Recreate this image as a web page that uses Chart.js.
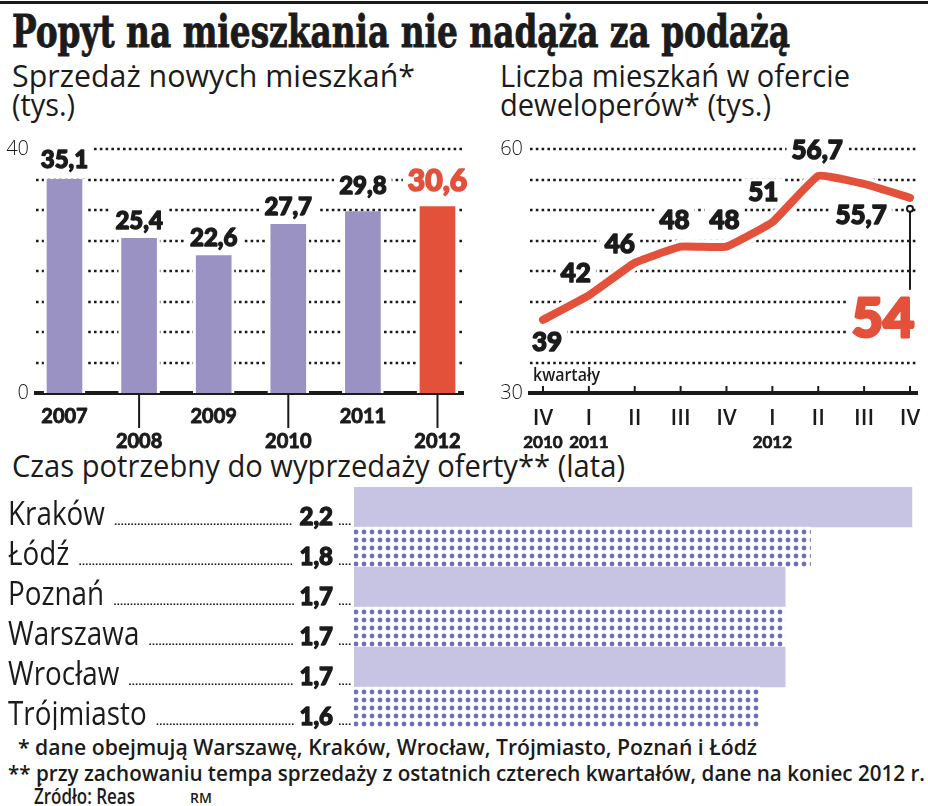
<!DOCTYPE html>
<html lang="pl">
<head>
<meta charset="utf-8">
<title>Popyt na mieszkania nie nadąża za podażą</title>
<script src="https://cdn.jsdelivr.net/npm/chart.js@4.4.1/dist/chart.umd.min.js"></script>
<style>
  html, body { margin: 0; background: #fff; }
  body { position: relative; width: 928px; height: 806px; overflow: hidden; color: #1b1b1b; font-family: "Open Sans", sans-serif; }
  canvas { position: absolute; }
  #sales { left: 0; top: 130px; }
  #offer { left: 480px; top: 130px; }
  #wait { left: 0; top: 480px; }
  .rule { position: absolute; left: 0; top: 1px; width: 928px; height: 3px; background: #1b1b1b; }
  .txt { position: absolute; white-space: nowrap; line-height: 1; transform-origin: 0 0; }
  .title { font-family: "DejaVu Serif Condensed", "DejaVu Serif", serif; font-stretch: condensed; font-weight: bold; font-size: 44px; -webkit-text-stroke: 0.8px #1b1b1b; }
  .sub { font-size: 31px; }
  .note { font-size: 21px; font-weight: 600; }
</style>
</head>
<body>
<div class="rule"></div>
<div class="txt title" style="left:12px;top:10px" data-w="778">Popyt na mieszkania nie nadąża za podażą</div>
<div class="txt sub" style="left:12px;top:60px" data-w="403">Sprzedaż nowych mieszkań*</div>
<div class="txt sub" style="left:12px;top:89px" data-w="63">(tys.)</div>
<div class="txt sub" style="left:500px;top:60px" data-w="350">Liczba mieszkań w ofercie</div>
<div class="txt sub" style="left:500px;top:89px" data-w="271">deweloperów* (tys.)</div>
<div class="txt sub" style="left:12px;top:450px" data-w="613">Czas potrzebny do wyprzedaży oferty** (lata)</div>

<canvas id="sales" width="480" height="330"></canvas>
<canvas id="offer" width="448" height="330"></canvas>
<canvas id="wait" width="928" height="250"></canvas>

<div class="txt" style="left:533px;top:365px;font-size:18px;font-weight:600" data-w="67">kwartały</div>
<div class="txt note" style="left:18px;top:737px" data-w="739">* dane obejmują Warszawę, Kraków, Wrocław, Trójmiasto, Poznań i Łódź</div>
<div class="txt note" style="left:8px;top:763px" data-w="917">** przy zachowaniu tempa sprzedaży z ostatnich czterech kwartałów, dane na koniec 2012 r.</div>
<div class="txt note" style="left:34px;top:786px" data-w="101">Źródło: Reas</div>
<div class="txt" style="left:190px;top:791px;font-size:14px;font-weight:600">RM</div>

<script>
// sprzedaz nowych mieszkan (tys.)
const salesYears = ['2007', '2008', '2009', '2010', '2011', '2012'];
const salesValues = [35.1, 25.4, 22.6, 27.7, 29.8, 30.6];

// liczba mieszkan w ofercie (tys.), kwartaly
const quarters = ['IV', 'I', 'II', 'III', 'IV', 'I', 'II', 'III', 'IV'];
const quarterYears = ['2010', '2011', '', '', '', '2012', '', '', ''];
const offerValues = [39, 42, 46, 48, 48, 51, 56.7, 55.7, 54];

// czas potrzebny do wyprzedazy (lata)
const cities = ['Kraków', 'Łódź', 'Poznań', 'Warszawa', 'Wrocław', 'Trójmiasto'];
const yearsToSell = [2.2, 1.8, 1.7, 1.7, 1.7, 1.6];

const ink = '#1b1b1b', purple = '#9b92c4', red = '#e4513b', lavender = '#c6c4e2', dotBlue = '#6d71b5';
const fmt = v => String(v).replace('.', ',');

Chart.defaults.animation = false;
Chart.defaults.font.family = '"Open Sans", sans-serif';
Chart.defaults.plugins.legend.display = false;
Chart.defaults.plugins.tooltip.enabled = false;

// heavy text: fill + stroke in the same colour
function heavyText(ctx, text, x, y, color, weight) {
    ctx.fillStyle = color;
    ctx.strokeStyle = color;
    ctx.lineWidth = weight;
    ctx.lineJoin = 'round';
    ctx.fillText(text, x, y);
    ctx.strokeText(text, x, y);
}

function labelBox(ctx, text, cx, cy, size, color) {
    ctx.font = '900 ' + size + 'px Lato';
    var w = ctx.measureText(text).width;
    var h = size * 0.74;
    ctx.fillStyle = '#fff';
    ctx.fillRect(cx - w / 2 - 5, cy - h / 2 - 3, w + 10, h + 6);
    ctx.textAlign = 'center';
    ctx.textBaseline = 'alphabetic';
    heavyText(ctx, text, cx, cy + size * 0.36, color, size / 18);
}

function leader(ctx, x0, x1, y) {
    ctx.fillStyle = ink;
    for (var x = x0; x <= x1 - 1.6; x += 3.3) ctx.fillRect(x, y - 1.6, 1.6, 1.6);
}

// dotted horizontal grid, skipping the base line
const dottedGrid = {
    id: 'dottedGrid',
    beforeDatasetsDraw(chart) {
        const {ctx, chartArea: a, scales: {y}} = chart;
        ctx.save();
        ctx.strokeStyle = ink;
        ctx.lineWidth = 2.6;
        ctx.setLineDash([2.6, 3.2]);
        y.ticks.forEach(function(t) {
            if (t.value === y.min) return;
            var py = Math.round(y.getPixelForValue(t.value));
            ctx.beginPath();
            ctx.moveTo(a.left, py);
            ctx.lineTo(a.right, py);
            ctx.stroke();
        });
        ctx.restore();
    }
};

const yTickFont = {family: '"Open Sans"', size: 20, weight: 300};

// ---- wykres 1: sprzedaz
const salesLift = [20, 18, 18, 18, 26, 26];
new Chart(document.getElementById('sales'), {
    type: 'bar',
    data: {
        datasets: [{
            data: salesValues.map((v, i) => ({x: i, y: v})),
            backgroundColor: salesValues.map((v, i) => i === salesValues.length - 1 ? red : purple),
            borderColor: '#fff',
            borderWidth: {left: 3, right: 3, top: 0, bottom: 0},
            barThickness: 41
        }]
    },
    options: {
        responsive: false,
        layout: {padding: {top: 15, right: 17, left: 0, bottom: 0}},
        scales: {
            x: {
                type: 'linear', min: -0.382, max: 5.342, offset: false,
                grid: {display: false}, ticks: {display: false},
                border: {display: true, width: 4, color: ink},
                afterFit: s => { s.height = 67; }
            },
            y: {
                min: 0, max: 40,
                ticks: {stepSize: 5, padding: 7, color: ink, font: yTickFont,
                        callback: v => (v === 0 || v === 40) ? v : ''},
                grid: {display: false, drawTicks: false},
                border: {display: false},
                afterFit: s => { s.width = 36; }
            }
        }
    },
    plugins: [dottedGrid, {
        id: 'salesText',
        afterDraw(chart) {
            const {ctx, chartArea: a, scales: {x, y}} = chart;
            ctx.save();
            salesValues.forEach(function(v, i) {
                var last = i === salesValues.length - 1;
                labelBox(ctx, fmt(v), x.getPixelForValue(i), y.getPixelForValue(v) - salesLift[i],
                         last ? 30 : 24, last ? red : ink);
            });
            salesYears.forEach(function(yr, i) {
                var px = x.getPixelForValue(i);
                var low = i % 2 === 1;
                if (low) {
                    ctx.strokeStyle = ink;
                    ctx.lineWidth = 2;
                    ctx.beginPath();
                    ctx.moveTo(px, a.bottom + 2);
                    ctx.lineTo(px, a.bottom + 35);
                    ctx.stroke();
                }
                ctx.font = '700 20px Lato';
                ctx.textAlign = 'center';
                heavyText(ctx, yr, px, a.bottom + (low ? 55 : 30), ink, 0.9);
            });
            ctx.restore();
        }
    }]
});

// ---- wykres 2: oferta deweloperow
const offerPoints = offerValues.map((v, i) => ({x: i, y: v}));
const offerShift = [[4, 22], [-13, -23], [-15, -19], [-6, -27], [-2, -27], [-9, -31], [-1, -26], [-3, 31]];
new Chart(document.getElementById('offer'), {
    type: 'line',
    data: {
        datasets: [
            {data: offerPoints, borderColor: red, borderWidth: 8, tension: 0.1, pointRadius: 0,
             borderCapStyle: 'round', borderJoinStyle: 'round'},
            {data: offerPoints, borderColor: '#fff', borderWidth: 15, tension: 0.1, pointRadius: 0,
             borderCapStyle: 'round', borderJoinStyle: 'round'}
        ]
    },
    options: {
        responsive: false,
        layout: {padding: {top: 15, right: 11, left: 0, bottom: 0}},
        scales: {
            x: {
                type: 'linear', min: -0.283, max: 8.153,
                grid: {display: false}, ticks: {display: false},
                border: {display: true, width: 4, color: ink},
                afterFit: s => { s.height = 67; }
            },
            y: {
                min: 30, max: 60,
                ticks: {stepSize: 3.75, padding: 7, color: ink, font: yTickFont,
                        callback: v => (v === 30 || v === 60) ? v : ''},
                grid: {display: false, drawTicks: false},
                border: {display: false},
                afterFit: s => { s.width = 50; }
            }
        }
    },
    plugins: [dottedGrid, {
        id: 'offerText',
        afterDraw(chart) {
            const {ctx, chartArea: a, scales: {x, y}} = chart;
            ctx.save();
            quarters.forEach(function(q, i) {
                var px = x.getPixelForValue(i);
                ctx.strokeStyle = ink;
                ctx.lineWidth = 2;
                ctx.beginPath();
                ctx.moveTo(px, a.bottom - 7);
                ctx.lineTo(px, a.bottom);
                ctx.stroke();
                ctx.textAlign = 'center';
                ctx.font = '600 22px "Open Sans"';
                ctx.fillStyle = ink;
                ctx.fillText(q, px, a.bottom + 32);
                if (quarterYears[i]) {
                    ctx.font = '700 17px Lato';
                    heavyText(ctx, quarterYears[i], px, a.bottom + 55, ink, 0.7);
                }
            });
            offerShift.forEach(function(s, i) {
                labelBox(ctx, fmt(offerValues[i]), x.getPixelForValue(i) + s[0],
                         y.getPixelForValue(offerValues[i]) + s[1], 26, ink);
            });
            // ostatni punkt: odnosnik i duza etykieta
            var n = offerValues.length - 1;
            var px = x.getPixelForValue(n), py = y.getPixelForValue(offerValues[n]);
            ctx.strokeStyle = ink;
            ctx.lineWidth = 2;
            ctx.beginPath();
            ctx.moveTo(px, py + 14);
            ctx.lineTo(px, py + 92);
            ctx.stroke();
            ctx.fillStyle = '#fff';
            ctx.beginPath();
            ctx.arc(px, py + 11, 3, 0, Math.PI * 2);
            ctx.fill();
            ctx.stroke();
            labelBox(ctx, fmt(offerValues[n]), px - 27, py + 120, 54, red);
            ctx.restore();
        }
    }]
});

// ---- wykres 3: czas wyprzedazy
function dotPattern() {
    var c = document.createElement('canvas');
    c.width = 8; c.height = 8;
    var g = c.getContext('2d');
    g.fillStyle = '#fff';
    g.fillRect(0, 0, 8, 8);
    g.fillStyle = dotBlue;
    g.beginPath();
    g.arc(4, 4, 2.4, 0, Math.PI * 2);
    g.fill();
    return g.createPattern(c, 'repeat');
}
const dots = dotPattern();

new Chart(document.getElementById('wait'), {
    type: 'bar',
    data: {
        labels: cities,
        datasets: [{
            data: yearsToSell,
            backgroundColor: cities.map((c, i) => i % 2 ? dots : lavender),
            barPercentage: 1,
            categoryPercentage: 1,
            borderWidth: 0
        }]
    },
    options: {
        indexAxis: 'y',
        responsive: false,
        layout: {padding: {left: 354, right: 3.4, top: 7, bottom: 3}},
        scales: {
            x: {display: false, min: 0, max: 2.25},
            y: {display: false}
        }
    },
    plugins: [{
        id: 'cityText',
        afterDraw(chart) {
            const {ctx, chartArea: a, scales: {y}} = chart;
            ctx.save();
            cities.forEach(function(name, i) {
                var base = y.getPixelForValue(i) + 18;
                ctx.fillStyle = ink;
                ctx.textAlign = 'left';
                ctx.font = '32px "Open Sans"';
                var nameW = ctx.measureText(name).width * 0.87;
                ctx.save();
                ctx.translate(8, base);
                ctx.scale(0.87, 1);
                ctx.fillText(name, 0, 0);
                ctx.restore();
                var txt = fmt(yearsToSell[i]);
                ctx.font = '900 24px Lato';
                ctx.textAlign = 'right';
                heavyText(ctx, txt, a.left - 21, base, ink, 1.3);
                var vw = ctx.measureText(txt).width;
                leader(ctx, 8 + nameW + 10, a.left - 21 - vw - 5, base);
                leader(ctx, a.left - 15, a.left - 1, base);
            });
            ctx.restore();
        }
    }]
});

// dopasowanie szerokosci napisow
function fitTexts() {
    document.querySelectorAll('.txt[data-w]').forEach(function(el) {
        el.style.transform = 'none';
        var w = el.getBoundingClientRect().width;
        el.style.transform = 'scaleX(' + (el.dataset.w / w) + ')';
    });
}
fitTexts();
document.fonts.ready.then(fitTexts);
</script>
</body>
</html>
